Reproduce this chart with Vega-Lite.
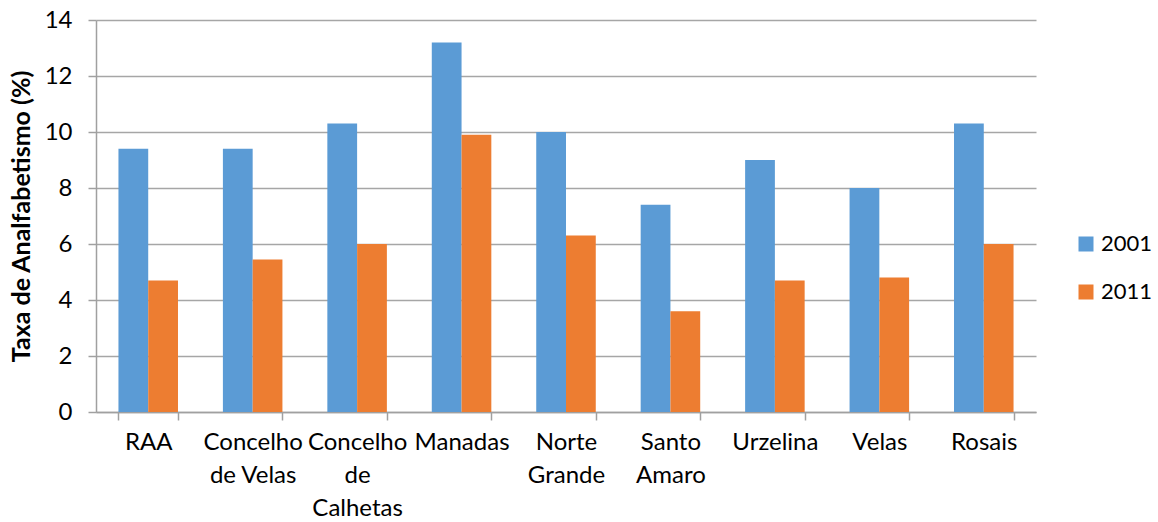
{
  "$schema": "https://vega.github.io/schema/vega-lite/v6.json",
  "autosize": {"type": "none"},
  "width": 940,
  "height": 392,
  "padding": {"left": 96, "top": 20, "right": 122, "bottom": 110},
  "config": {
    "view": {"stroke": null},
    "font": "Lato"
  },
  "data": {
    "values": [
      {"local": "RAA", "ano": "2001", "taxa": 9.4},
      {"local": "RAA", "ano": "2011", "taxa": 4.7},
      {"local": "Concelho de Velas", "ano": "2001", "taxa": 9.4},
      {"local": "Concelho de Velas", "ano": "2011", "taxa": 5.45},
      {"local": "Concelho de Calhetas", "ano": "2001", "taxa": 10.3},
      {"local": "Concelho de Calhetas", "ano": "2011", "taxa": 6.0},
      {"local": "Manadas", "ano": "2001", "taxa": 13.2},
      {"local": "Manadas", "ano": "2011", "taxa": 9.9},
      {"local": "Norte Grande", "ano": "2001", "taxa": 10.0},
      {"local": "Norte Grande", "ano": "2011", "taxa": 6.3},
      {"local": "Santo Amaro", "ano": "2001", "taxa": 7.4},
      {"local": "Santo Amaro", "ano": "2011", "taxa": 3.6},
      {"local": "Urzelina", "ano": "2001", "taxa": 9.0},
      {"local": "Urzelina", "ano": "2011", "taxa": 4.7},
      {"local": "Velas", "ano": "2001", "taxa": 8.0},
      {"local": "Velas", "ano": "2011", "taxa": 4.8},
      {"local": "Rosais", "ano": "2001", "taxa": 10.3},
      {"local": "Rosais", "ano": "2011", "taxa": 6.0}
    ]
  },
  "mark": {"type": "bar"},
  "encoding": {
    "x": {
      "field": "local",
      "type": "nominal",
      "sort": null,
      "scale": {"paddingInner": 0.43, "paddingOuter": 0.215},
      "axis": {
        "title": null,
        "labelAngle": 0,
        "labelFontSize": 24,
        "labelColor": "#000000",
        "labelLineHeight": 33,
        "labelBaseline": "top",
        "labelPadding": 10,
        "tickBand": "extent",
        "tickSize": 8,
        "tickColor": "#a0a0a0",
        "tickWidth": 1.5,
        "domainColor": "#a0a0a0",
        "domainWidth": 1.5,
        "labelExpr": "datum.label == 'Concelho de Velas' ? ['Concelho', 'de Velas'] : datum.label == 'Concelho de Calhetas' ? ['Concelho', 'de', 'Calhetas'] : split(datum.label, ' ')"
      }
    },
    "xOffset": {"field": "ano", "type": "nominal"},
    "y": {
      "field": "taxa",
      "type": "quantitative",
      "scale": {"domain": [0, 14]},
      "axis": {
        "title": "Taxa de Analfabetismo (%)",
        "titleFontSize": 25,
        "titleFontWeight": "bold",
        "titleColor": "#000000",
        "titlePadding": 10,
        "values": [0, 2, 4, 6, 8, 10, 12, 14],
        "labelFontSize": 24,
        "labelColor": "#000000",
        "labelPadding": 16,
        "tickSize": 8,
        "tickColor": "#a0a0a0",
        "tickWidth": 1.5,
        "domainColor": "#a0a0a0",
        "domainWidth": 1.5,
        "gridColor": "#a6a6a6",
        "gridWidth": 1.5
      }
    },
    "color": {
      "field": "ano",
      "type": "nominal",
      "scale": {"domain": ["2001", "2011"], "range": ["#5B9BD5", "#ED7D31"]},
      "legend": {
        "title": null,
        "orient": "none",
        "legendX": 979,
        "legendY": 213,
        "padding": 0,
        "symbolType": "square",
        "symbolSize": 225,
        "symbolStrokeWidth": 0,
        "symbolOpacity": 1,
        "labelFontSize": 22,
        "labelColor": "#000000",
        "labelOffset": 4,
        "rowPadding": 26
      }
    }
  }
}
